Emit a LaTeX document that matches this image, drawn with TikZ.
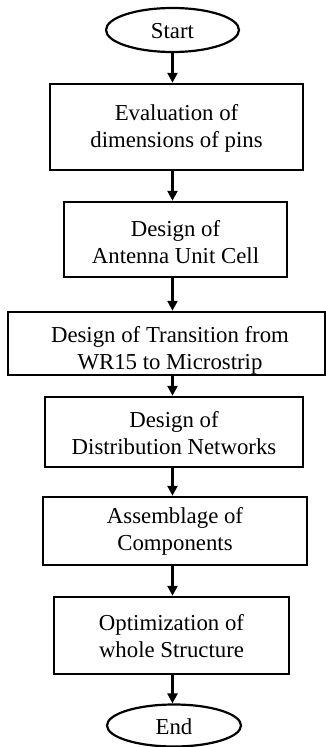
\documentclass[tikz,border=0pt]{standalone}
\usepackage{fontspec}
\setmainfont{Liberation Serif}
\usetikzlibrary{shapes.geometric,arrows.meta}
\begin{document}
\begin{tikzpicture}[x=1pt,y=-1pt,
  stepbox/.style={draw,line width=2.5pt,inner sep=0pt},
  terminal/.style={draw,ellipse,line width=2.2pt,inner sep=0pt},
  txt/.style={align=center,font=\fontsize{22.8}{27}\selectfont,inner sep=0pt},
  flow/.style={line width=2.5pt,-{Triangle[length=10pt,width=10pt]}}]
\useasboundingbox (0,0) rectangle (326,747);
% vertical axis carrying all connectors
\coordinate (axis) at (172.5,0);
% terminals
\node[terminal,minimum width=133pt,minimum height=44pt] (start) at (172.5,30) {};
\node[txt] (tstart) at (172.5,31) {Start};
\node[terminal,minimum width=134pt,minimum height=42pt] (end) at (174,725.5) {};
\node[txt] (tend) at (174,727) {End};
% process steps
\node[stepbox,minimum width=253pt,minimum height=86pt] (b1) at (176.5,127) {};
\node[txt] (t1) at (176.5,128.5) {Evaluation of\\dimensions of pins};
\node[stepbox,minimum width=223pt,minimum height=75pt] (b2) at (175.5,239.5) {};
\node[txt] (t2) at (175.5,242) {Design of\\Antenna Unit Cell};
\node[stepbox,minimum width=317pt,minimum height=63pt] (b3) at (166.5,343.5) {};
\node[txt] (t3) at (170,350) {Design of Transition from\\WR15 to Microstrip};
\node[stepbox,minimum width=258pt,minimum height=70pt] (b4) at (174,432) {};
\node[txt] (t4) at (174,433) {Design of\\Distribution Networks};
\node[stepbox,minimum width=264pt,minimum height=68pt] (b5) at (175,531) {};
\node[txt] (t5) at (175,531.5) {Assemblage of\\Components};
\node[stepbox,minimum width=235pt,minimum height=77pt] (b6) at (171.5,635.5) {};
\node[txt] (t6) at (171.5,636.5) {Optimization of\\whole Structure};
% connectors
\draw[flow] (start.south -| axis) -- (b1.north -| axis);
\draw[flow] (b1.south -| axis) -- (b2.north -| axis);
\draw[flow] (b2.south -| axis) -- (b3.north -| axis);
\draw[flow] (b3.south -| axis) -- (b4.north -| axis);
\draw[flow] (b4.south -| axis) -- (b5.north -| axis);
\draw[flow] (b5.south -| axis) -- (b6.north -| axis);
\draw[flow] (b6.south -| axis) -- (end.north -| axis);
\end{tikzpicture}
\end{document}
